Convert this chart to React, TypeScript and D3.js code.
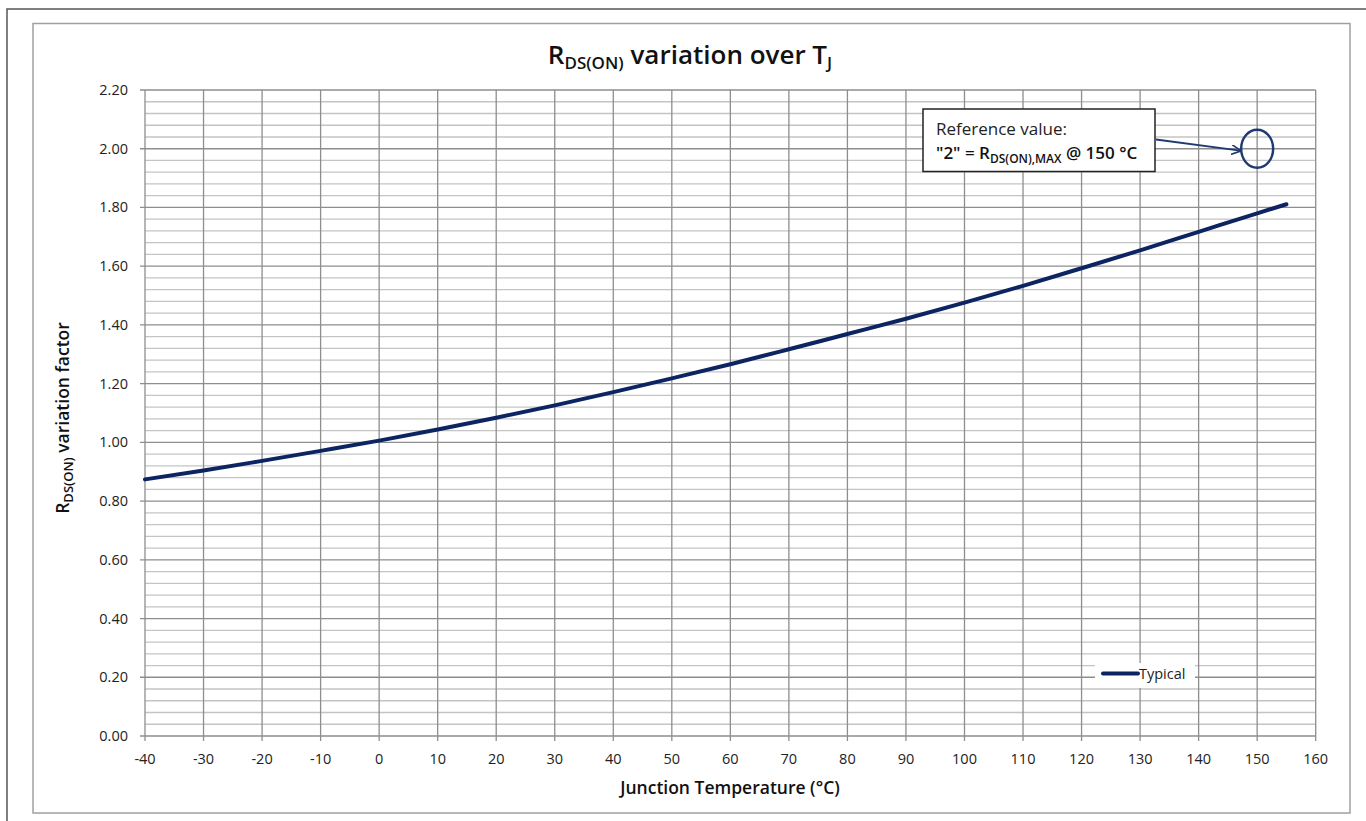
import React from "react";
import * as d3 from "d3";

const temps = [-40, -30, -20, -10, 0, 10, 20, 30, 40, 50, 60, 70, 80, 90, 100, 110, 120, 130, 140, 150, 155];
const typical = [0.874, 0.904, 0.937, 0.971, 1.006, 1.044, 1.084, 1.126, 1.171, 1.218, 1.266, 1.317, 1.369, 1.421, 1.476, 1.533, 1.593, 1.654, 1.717, 1.78, 1.811];
const xTicks = [-40, -30, -20, -10, 0, 10, 20, 30, 40, 50, 60, 70, 80, 90, 100, 110, 120, 130, 140, 150, 160];
const yTicks = [0, 0.2, 0.4, 0.6, 0.8, 1.0, 1.2, 1.4, 1.6, 1.8, 2.0, 2.2];
const yMinor = d3.range(0, 56).map((i) => i * 0.04);
const refPoint = { t: 150, v: 2.0 };

const FONT = "'Open Sans', 'Noto Sans', sans-serif";

export default function App() {
  const left = 145, right = 1315.7, top = 90, bottom = 736;
  const x = d3.scaleLinear().domain([-40, 160]).range([left, right]);
  const y = d3.scaleLinear().domain([0, 2.2]).range([bottom, top]);
  const line = d3
    .line<number>()
    .x((_, i) => x(temps[i]))
    .y((d) => y(d))
    .curve(d3.curveMonotoneX);

  const cx = x(refPoint.t), cy = y(refPoint.v);

  return (
    <svg width={1366} height={821} style={{ position: "absolute", left: 0, top: 0, background: "#fff" }} fontFamily={FONT}>
      <defs>
        <marker id="arr" viewBox="0 0 10 10" refX="9" refY="5" markerWidth="10" markerHeight="10" orient="auto" markerUnits="userSpaceOnUse">
          <path d="M0,0 L10,5 L0,10" fill="none" stroke="#1f3a73" strokeWidth={1.6} />
        </marker>
      </defs>
      {/* outer frame */}
      <path d="M7,830 L7,9 L1380,9" fill="none" stroke="#555" strokeWidth={1.5} />
      {/* inner frame */}
      <rect x={33} y={23.5} width={1317} height={789.5} fill="#fff" stroke="#a0a0a0" strokeWidth={1.5} />

      {/* minor horizontal gridlines */}
      {yMinor.map((v, i) =>
        i % 5 === 0 ? null : (
          <line key={"m" + i} x1={left} x2={right} y1={y(v)} y2={y(v)} stroke="#c4c4c4" strokeWidth={1.3} />
        )
      )}
      {/* major horizontal gridlines */}
      {yTicks.map((v) => (
        <line key={"h" + v} x1={left - 5} x2={right} y1={y(v)} y2={y(v)} stroke="#8e8e8e" strokeWidth={1.3} />
      ))}
      {/* vertical gridlines */}
      {xTicks.map((t) => (
        <line key={"v" + t} x1={x(t)} x2={x(t)} y1={top} y2={bottom + 5} stroke="#8e8e8e" strokeWidth={1.3} />
      ))}

      {/* y tick labels */}
      {yTicks.map((v) => (
        <text key={"yl" + v} x={128} y={y(v) + 5} textAnchor="end" fontSize={14.5} fill="#222">
          {v.toFixed(2)}
        </text>
      ))}
      {/* x tick labels */}
      {xTicks.map((t) => (
        <text key={"xl" + t} x={x(t)} y={764} textAnchor="middle" fontSize={14.5} fill="#222">
          {t}
        </text>
      ))}

      {/* data line */}
      <path d={line(typical) || ""} fill="none" stroke="#0c2461" strokeWidth={4} strokeLinecap="round" />

      {/* title */}
      <text x={690} y={64} textAnchor="middle" fontSize={26} fontWeight={600} fill="#111">
        R<tspan fontSize={17} dy={5}>DS(ON)</tspan>
        <tspan dy={-5}> variation over T</tspan>
        <tspan fontSize={17} dy={5}>J</tspan>
      </text>

      {/* axis titles */}
      <text x={730} y={794} textAnchor="middle" fontSize={17.5} fontWeight={600} fill="#111">
        Junction Temperature (°C)
      </text>
      <text transform="translate(69,418) rotate(-90)" textAnchor="middle" fontSize={17.5} fontWeight={600} fill="#111">
        R<tspan fontSize={13} dy={4}>DS(ON)</tspan>
        <tspan dy={-4}> variation factor</tspan>
      </text>

      {/* annotation box */}
      <rect x={923} y={109} width={232} height={62.5} fill="#fff" stroke="#222" strokeWidth={1.5} />
      <text x={936} y={135} fontSize={17} fill="#222">Reference value:</text>
      <text x={936} y={159} fontSize={17} fontWeight={600} fill="#111">
        "2" = R<tspan fontSize={12} dy={4}>DS(ON),MAX</tspan>
        <tspan dy={-4}> @ 150 °C</tspan>
      </text>
      <line x1={1156} y1={139.5} x2={cx - 17} y2={cy + 2} stroke="#1f3a73" strokeWidth={1.8} markerEnd="url(#arr)" />
      <ellipse cx={cx} cy={cy} rx={16} ry={19} fill="none" stroke="#1f3a73" strokeWidth={2.4} />

      {/* legend */}
      <rect x={1095} y={663} width={100} height={25} fill="#fff" />
      <line x1={1103} x2={1138} y1={673.5} y2={673.5} stroke="#0c2461" strokeWidth={4} strokeLinecap="round" />
      <text x={1139} y={678.5} fontSize={14.5} fill="#222">Typical</text>
    </svg>
  );
}
